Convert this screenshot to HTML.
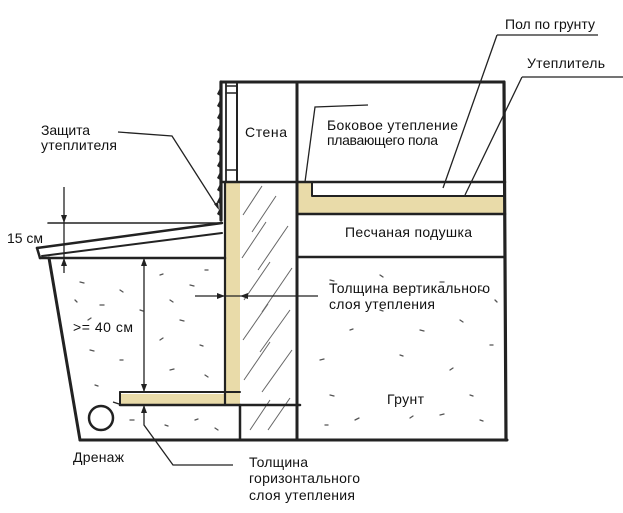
<!DOCTYPE html>
<html><head><meta charset="utf-8"><style>
html,body{margin:0;padding:0;background:#fff;}
svg{display:block;}
text{font-family:"Liberation Sans","Noto Sans CJK SC",sans-serif;font-size:14px;fill:#111;}
</style></head><body>
<svg width="623" height="513" viewBox="0 0 623 513" xmlns="http://www.w3.org/2000/svg">
<rect x="0" y="0" width="623" height="513" fill="#fff"/>

<!-- yellow insulation -->
<g fill="#e9dba9">
<rect x="226" y="182" width="14" height="222"/>
<rect x="121" y="394" width="119" height="10"/>
<rect x="298" y="182" width="14" height="32"/>
<rect x="298" y="197" width="207" height="17"/>
</g>

<!-- hatching -->
<g stroke="#666" stroke-width="1" fill="none">
<path d="M243 215 L262 186"/><path d="M252 232 L276 196"/>
<path d="M242 258 L266 222"/><path d="M258 270 L288 226"/>
<path d="M244 300 L270 262"/><path d="M262 312 L292 268"/>
<path d="M243 340 L268 304"/><path d="M260 352 L290 310"/>
<path d="M244 380 L270 342"/><path d="M262 392 L292 350"/>
<path d="M250 430 L270 400"/><path d="M268 430 L290 398"/>
</g>

<!-- soil specks -->
<g stroke="#555" stroke-width="1.3" stroke-linecap="round">
<path d="M80 282 l4 1"/><path d="M120 290 l3 2"/><path d="M100 305 l4 0"/><path d="M160 275 l3 -1"/><path d="M190 285 l4 1"/>
<path d="M170 300 l3 2"/><path d="M205 270 l3 0"/><path d="M88 320 l3 -2"/><path d="M180 320 l4 1"/><path d="M160 340 l3 -2"/>
<path d="M200 345 l3 1"/><path d="M90 350 l4 1"/><path d="M120 360 l3 0"/><path d="M170 370 l4 -1"/><path d="M205 375 l3 2"/>
<path d="M95 385 l3 1"/><path d="M130 420 l4 0"/><path d="M165 425 l3 1"/><path d="M195 420 l3 -1"/><path d="M215 428 l3 2"/>
<path d="M75 300 l2 2"/><path d="M140 310 l3 1"/>
<path d="M330 280 l4 1"/><path d="M380 275 l3 2"/><path d="M440 282 l4 0"/><path d="M480 290 l3 1"/><path d="M350 330 l3 -1"/>
<path d="M420 330 l4 1"/><path d="M460 320 l3 2"/><path d="M490 345 l3 0"/><path d="M320 360 l4 -1"/><path d="M400 355 l3 1"/>
<path d="M450 370 l3 -2"/><path d="M330 395 l4 1"/><path d="M470 395 l3 1"/><path d="M355 420 l4 -2"/><path d="M410 418 l3 -2"/>
<path d="M440 415 l4 -1"/><path d="M480 420 l3 1"/><path d="M325 425 l3 0"/><path d="M380 310 l3 1"/><path d="M495 300 l2 2"/>
</g>

<!-- main thick lines -->
<g stroke="#222" fill="none" stroke-linecap="round" stroke-linejoin="round">
<path d="M221 82 H504" stroke-width="3"/>
<path d="M504 82 L506 440" stroke-width="3.2"/>
<path d="M80 440 H507" stroke-width="3"/>
<path d="M49 258 L80 440" stroke-width="3"/>
<path d="M40 258 H225" stroke-width="2.5"/>
<path d="M37 248 L222 223" stroke-width="2.5"/>
<path d="M42 256 L222 233" stroke-width="2"/>
<path d="M37 248 L40 258" stroke-width="2.5"/>
<path d="M48 223 H222" stroke-width="1.6"/>
<path d="M225 182 V405" stroke-width="2.2"/>
<path d="M226 82 V182" stroke-width="1.8"/>
<path d="M237 82 V182" stroke-width="2"/>
<path d="M297 82 V440" stroke-width="3"/>
<path d="M222 182 H505" stroke-width="2.5"/>
<path d="M226 86 H237" stroke-width="1.5"/>
<path d="M226 93 H237" stroke-width="1.5"/>
<path d="M226 170 H237" stroke-width="1.5"/>
<path d="M240 405 V440" stroke-width="2.5"/>
<path d="M120 392 H240" stroke-width="2"/>
<path d="M120 405 H300" stroke-width="2.5"/>
<path d="M120 392 V405" stroke-width="2"/>
<path d="M312 182 V196 H505" stroke-width="2"/>
<path d="M297 214 H505" stroke-width="2.5"/>
<path d="M297 257 H505" stroke-width="2.5"/>
<!-- jagged wall face -->
<path d="M221 82 V220" stroke-width="3.2"/>
</g>
<g fill="#222">
<path d="M220 88 l-3 6 l3 2 z"/><path d="M220 100 l-3 6 l3 2 z"/><path d="M220 112 l-3 6 l3 2 z"/>
<path d="M220 124 l-3 6 l3 2 z"/><path d="M220 136 l-3 6 l3 2 z"/><path d="M220 148 l-3 6 l3 2 z"/>
<path d="M220 160 l-3 6 l3 2 z"/><path d="M220 172 l-3 6 l3 2 z"/><path d="M220 184 l-3 6 l3 2 z"/>
<path d="M220 196 l-3 6 l3 2 z"/><path d="M220 208 l-3 6 l3 2 z"/>
</g>

<!-- drain -->
<circle cx="101" cy="418" r="12" fill="none" stroke="#222" stroke-width="2.5"/>

<!-- dimension & leader lines -->
<g stroke="#222" fill="none" stroke-width="1.3">
<path d="M64 187 V273"/>
<path d="M144 258 V392"/>
<path d="M144 405 V425 L173 465 H233"/>
<path d="M195 296 H318"/>
<path d="M118 132 L172 136 L218 208"/>
<path d="M305 182 L315 107 L368 105"/>
<path d="M497 35 H598"/>
<path d="M497 35 L443 188"/>
<path d="M522 77 H623"/>
<path d="M522 77 L465 195"/>
<path d="M113 402 L119 404"/>
</g>
<g fill="#222">
<path d="M64 223 l-3 -8 h6 z"/>
<path d="M64 258 l-3 8 h6 z"/>
<path d="M144 258 l-3 8 h6 z"/>
<path d="M144 392 l-3 -8 h6 z"/>
<path d="M144 405 l-3 8 h6 z"/>
<path d="M225 296 l-8 -3 v6 z"/>
<path d="M240 296 l8 -3 v6 z"/>
<path d="M219 210 l-5 -6 l4 -2 z"/>
</g>

<!-- labels -->
<text x="505" y="29" textLength="90">Пол по грунту</text>
<text x="527" y="68" textLength="78">Утеплитель</text>
<text x="327" y="130" textLength="131">Боковое утепление</text>
<text x="327" y="145" textLength="111">плавающего пола</text>
<text x="345" y="237" textLength="127">Песчаная подушка</text>
<text x="245" y="137" textLength="42">Стена</text>
<text x="41" y="135" textLength="49">Защита</text>
<text x="41" y="150" textLength="76">утеплителя</text>
<text x="7" y="243" textLength="36">15 см</text>
<text x="73" y="332" textLength="60">&gt;= 40 см</text>
<text x="73" y="462" textLength="51">Дренаж</text>
<text x="249" y="467" textLength="59">Толщина</text>
<text x="249" y="483" textLength="111">горизонтального</text>
<text x="249" y="500" textLength="106">слоя утепления</text>
<text x="329" y="293" textLength="161">Толщина вертикального</text>
<text x="329" y="309" textLength="106">слоя утепления</text>
<text x="387" y="404" textLength="37">Грунт</text>
</svg>
</body></html>
